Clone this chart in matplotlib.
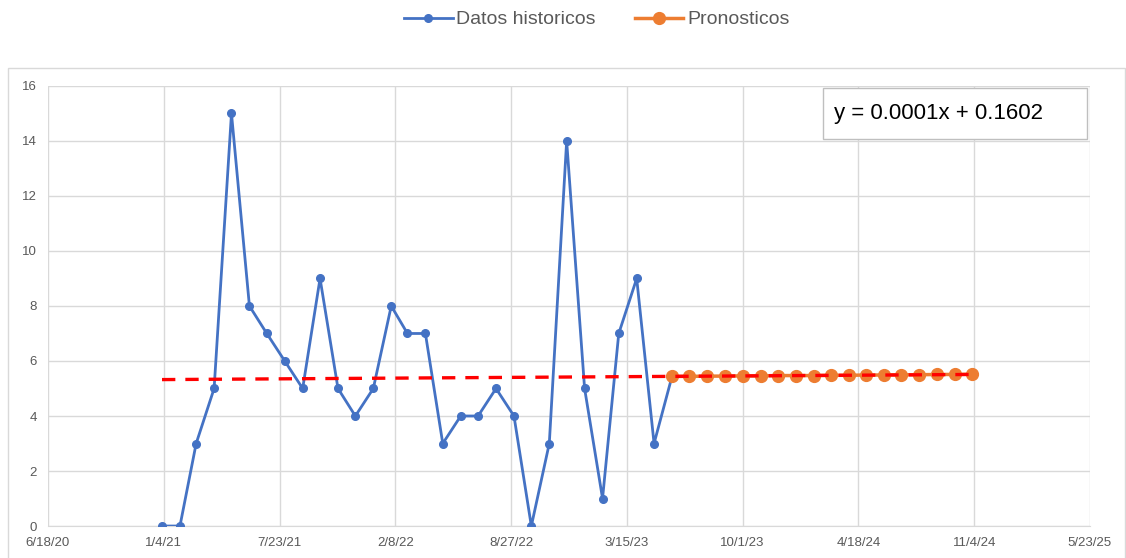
import numpy as np
import pandas as pd
import matplotlib
matplotlib.use("Agg")
import matplotlib.pyplot as plt
import matplotlib.dates as mdates
from matplotlib.patches import Rectangle

plt.rcParams['font.family'] = ['Liberation Sans', 'DejaVu Sans']

# historical monthly values, Jan 2021 - May 2023 (+ join to first forecast)
historico = [0, 0, 3, 5, 15, 8, 7, 6, 5, 9, 5, 4, 5, 8, 7, 7, 3, 4, 4, 5,
             4, 0, 3, 14, 5, 1, 7, 9, 3]
pronostico = [5.44, 5.44, 5.45, 5.45, 5.46, 5.46, 5.47, 5.47, 5.47, 5.48,
              5.48, 5.49, 5.49, 5.50, 5.50, 5.51, 5.51, 5.52]
fechas_hist = pd.date_range("2021-01-01", periods=len(historico) + 1, freq="MS")
fechas_pron = pd.date_range("2023-06-01", periods=len(pronostico), freq="MS")
ecuacion = "y = 0.0001x + 0.1602"

azul = "#4472C4"
naranja = "#ED7D31"
gris = "#D9D9D9"

fig = plt.figure(figsize=(11.26, 5.58), dpi=100)
ax = fig.add_axes([0.0426, 0.0573, 0.9254, 0.7887])

# chart border
fig.patches.append(Rectangle((8 / 1126, -0.01), 1117 / 1126, 0.888,
                             transform=fig.transFigure, fill=False,
                             edgecolor=gris, linewidth=1))

hist_y = historico + [pronostico[0]]
ax.plot(fechas_hist, hist_y, color=azul, lw=2, marker="o", ms=5.5,
        label="Datos historicos", zorder=3)
ax.plot(fechas_pron, pronostico, color=naranja, lw=2.5, marker="o", ms=8.5,
        label="Pronosticos", zorder=4)

# linear trend over all values
todas_f = fechas_hist[:-1].append(fechas_pron)
todas_y = np.array(historico + pronostico)
xs = mdates.date2num(todas_f)
m, b = np.polyfit(xs, todas_y, 1)
ax.plot(todas_f, m * xs + b, color="#FF0000", lw=2.4, ls=(0, (4, 3)), zorder=5)

inicio = pd.Timestamp("2020-06-18")
ticks = [inicio + pd.Timedelta(days=200 * i) for i in range(10)]
ax.set_xlim(ticks[0], ticks[-1])
ax.set_xticks(ticks)
ax.set_xticklabels([f"{t.month}/{t.day}/{t.strftime('%y')}" for t in ticks])
ax.set_ylim(0, 16)
ax.set_yticks(range(0, 17, 2))

ax.grid(True, color=gris, lw=1)
ax.set_axisbelow(True)
for s in ["top", "right", "left"]:
    ax.spines[s].set_visible(False)
ax.spines["bottom"].set_color(gris)
ax.tick_params(length=0, labelsize=9.5, colors="#595959", pad=8)

# trendline equation box
fig.patches.append(Rectangle((823 / 1126, (558 - 139) / 558), 264 / 1126, 51 / 558,
                             transform=fig.transFigure, facecolor="white",
                             edgecolor="#BFBFBF", linewidth=1, zorder=6))
fig.text(834 / 1126, (558 - 113) / 558, ecuacion, ha="left", va="center",
         fontsize=16, zorder=7)

fig.legend(loc="center", bbox_to_anchor=(0.53, 0.965), ncol=2, frameon=False,
           fontsize=14, handlelength=2.5, handletextpad=0.2, columnspacing=2,
           labelcolor="#595959")

fig.savefig("out.png", dpi=100)
